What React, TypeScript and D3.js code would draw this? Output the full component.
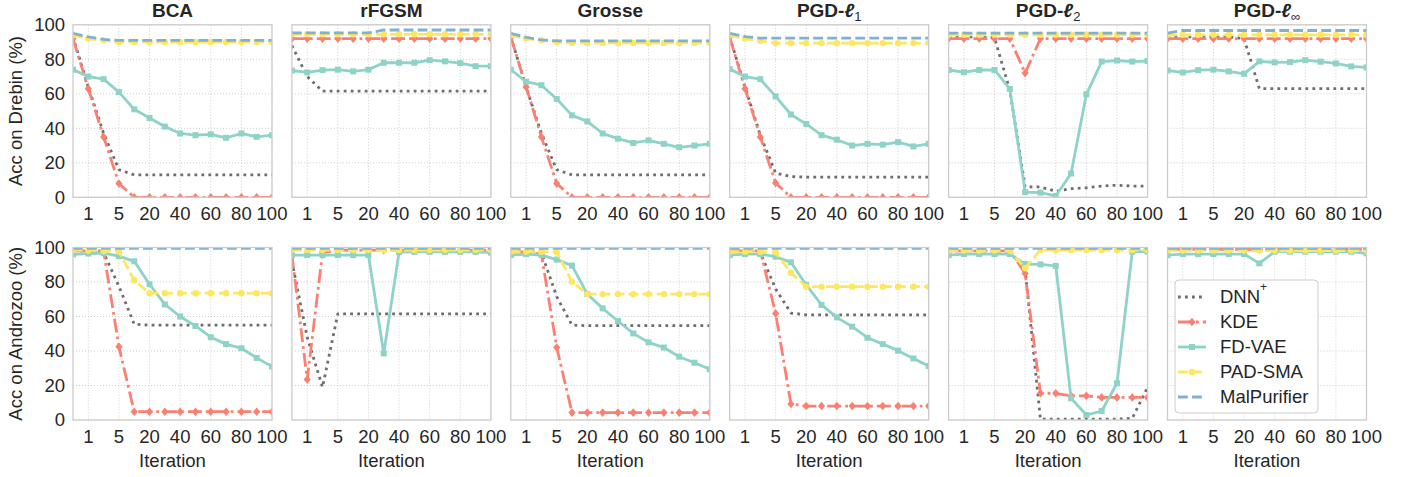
import React from "react";
import * as d3 from "d3";

// x positions are categorical: one slot per evaluated iteration count
const iterations = [0, 1, 2, 5, 10, 20, 30, 40, 50, 60, 70, 80, 90, 100];
const xTickValues = [1, 5, 20, 40, 60, 80, 100];
const yTickValues = [0, 20, 40, 60, 80, 100];

const attacks = ["BCA", "rFGSM", "Grosse", "PGD-ℓ1", "PGD-ℓ2", "PGD-ℓ∞"];
const datasets = ["Drebin", "Androzoo"];
const methods = ["DNN", "KDE", "FD-VAE", "PAD-SMA", "MalPurifier"];

// ---- Drebin (one row per attack, same order as `attacks`)
const dnnDrebin = [
  [93, 64, 37, 16, 13, 13, 13, 13, 13, 13, 13, 13, 13, 13],
  [88, 70, 61.5, 61.5, 61.5, 61.5, 61.5, 61.5, 61.5, 61.5, 61.5, 61.5, 61.5, 61.5],
  [93, 64, 37, 16, 13, 13, 13, 13, 13, 13, 13, 13, 13, 13],
  [93, 64, 36, 14, 12, 11.7, 11.7, 11.7, 11.7, 11.7, 11.7, 11.7, 11.7, 11.7],
  [93, 93, 93, 92.5, 62, 6, 6, 3.5, 5, 5.5, 6.5, 7, 6.5, 6.5],
  [93, 93, 93, 93, 93, 92, 63, 63, 63, 63, 63, 63, 63, 63],
];
const kdeDrebin = [
  [92, 63, 35, 8, 0, 0, 0, 0, 0, 0, 0, 0, 0, 0],
  [92, 92, 92, 92, 92, 92, 92, 92, 92, 92, 92, 92, 92, 92],
  [93, 64, 35, 8, 0, 0, 0, 0, 0, 0, 0, 0, 0, 0],
  [93, 63, 35, 8.3, 0, 0, 0, 0, 0, 0, 0, 0, 0, 0],
  [92, 92, 92, 92, 92, 72, 92, 92, 92, 92, 92, 92, 92, 92],
  [92, 92, 92, 92, 92, 92, 92, 92, 92, 92, 92, 92, 92, 92],
];
const fdvaeDrebin = [
  [74, 70, 68.5, 61, 51, 46, 41, 37, 36, 36.5, 34.5, 37, 35, 36],
  [73.5, 72.4, 73.7, 74, 73, 74, 78, 78, 78, 79.5, 78.8, 77.8, 76, 76],
  [74, 67, 65, 57, 47.5, 44, 37, 34, 31.5, 33, 31, 29, 30, 31],
  [74.3, 70, 68.5, 58.5, 48, 42.5, 36, 33.4, 30, 31, 30.5, 32, 29.5, 31],
  [73.8, 72.5, 73.8, 73.8, 62.8, 3, 2.7, 0.8, 13.8, 59.7, 78.7, 79.3, 78.7, 79],
  [73.5, 72.4, 73.7, 74, 73, 71.6, 78.8, 78.2, 78.4, 79.5, 78.6, 77.6, 75.9, 75.3],
];
const padDrebin = [
  [94, 92, 91, 90, 90, 90, 90, 90, 90, 90, 90, 90, 90, 90],
  [94.5, 94.5, 94.5, 94.5, 94.5, 94.5, 94.5, 94.5, 94.5, 94.5, 94.5, 94.5, 94.5, 94.5],
  [94, 92, 91, 90, 89.5, 89.5, 89.5, 89.5, 89.5, 89.5, 89.5, 89.5, 89.5, 89.5],
  [94, 92, 90.7, 89.4, 89.4, 89.4, 89.4, 89.4, 89.4, 89.4, 89.4, 89.4, 89.4, 89.4],
  [94.2, 94.2, 94.2, 94.2, 94.2, 94.2, 94.2, 94.2, 94.2, 94.2, 94.2, 94.2, 94.2, 94.2],
  [94.2, 94.2, 94.2, 94.2, 94.2, 94.2, 94.2, 94.2, 94.2, 94.2, 94.2, 94.2, 94.2, 94.2],
];
const malDrebin = [
  [95, 93, 91.5, 91, 91, 91, 91, 91, 91, 91, 91, 91, 91, 91],
  [95.3, 95.3, 95.3, 95.3, 95.3, 95.3, 97, 97, 97, 97, 97, 97, 97, 97],
  [95, 92.7, 91.3, 90.7, 90.7, 90.7, 90.7, 90.7, 90.7, 90.7, 90.7, 90.7, 90.7, 90.7],
  [95, 93.2, 92.3, 92.3, 92.3, 92.3, 92.3, 92.3, 92.3, 92.3, 92.3, 92.3, 92.3, 92.3],
  [95.2, 95.2, 95.2, 95.2, 95.2, 95.2, 95.2, 95.2, 95.2, 95.2, 95.2, 95.2, 95.2, 95.2],
  [95.2, 96.7, 96.7, 96.7, 96.7, 96.7, 96.7, 96.7, 96.7, 96.7, 96.7, 96.7, 96.7, 96.7],
];

// ---- Androzoo
const dnnAndro = [
  [98, 98, 97, 77.5, 55.5, 55, 55, 55, 55, 55, 55, 55, 55, 55],
  [92, 48, 19, 61.5, 61.5, 61.5, 61.5, 61.5, 61.5, 61.5, 61.5, 61.5, 61.5, 61.5],
  [98, 98, 97, 71.5, 55, 54.7, 54.7, 54.7, 54.7, 54.7, 54.7, 54.7, 54.7, 54.7],
  [98, 98, 97, 76, 62, 61, 61, 61, 61, 61, 61, 61, 61, 61],
  [98, 98, 98, 98, 98, 87, 0.5, 0.5, 0.5, 0.5, 0.5, 0.5, 1, 19],
  [99, 99, 99, 99, 99, 99, 99, 99, 99, 99, 99, 99, 99, 99],
];
const kdeAndro = [
  [98, 98, 98, 42.5, 4.8, 4.8, 4.8, 4.8, 4.8, 4.8, 4.8, 4.8, 4.8, 4.8],
  [96, 23.5, 97, 98.5, 98.5, 98.5, 98.5, 98.5, 98.5, 98.5, 98.5, 98.5, 98.5, 98.5],
  [97.5, 97.5, 96, 42, 4.3, 4.3, 4.3, 4.3, 4.3, 4.3, 4.3, 4.3, 4.3, 4.3],
  [98, 98, 98, 61.8, 9.3, 8.1, 8.1, 8.1, 8.1, 8.1, 8.1, 8.1, 8.1, 8.1],
  [98, 98, 98, 98, 98, 85, 15.5, 15.5, 14, 14, 13.1, 13.1, 13.1, 13.1],
  [99, 99, 99, 99, 99, 99, 99, 99, 99, 99, 99, 99, 99, 99],
];
const fdvaeAndro = [
  [96, 96.5, 96.7, 95, 92, 78.7, 67, 60, 54.5, 48, 44, 41.6, 36, 31],
  [95.6, 95.6, 95.6, 95.6, 95.6, 95.6, 38.6, 97.3, 97.5, 97.5, 97.5, 97.5, 97.5, 97],
  [95.6, 96.2, 95.6, 93, 89.5, 73, 64.7, 57.4, 50.2, 45, 42, 36.7, 33.2, 29.4],
  [95.6, 96.2, 96.2, 94.7, 91.4, 78.3, 66.7, 59.5, 54.1, 47.7, 44, 40.2, 35.7, 31.3],
  [95.6, 96.2, 96.2, 96.2, 96.2, 90.4, 90.2, 89.3, 12.6, 2.9, 5.2, 21.3, 97.6, 97.6],
  [95.6, 96.2, 96.2, 96.2, 96.2, 96.2, 90.8, 97.6, 97.6, 97.6, 97.6, 97.6, 97.6, 96.6],
];
const padAndro = [
  [98.6, 98.3, 98, 97.7, 81, 73.5, 73.5, 73.5, 73.5, 73.5, 73.5, 73.5, 73.5, 73.5],
  [98.5, 98.5, 98.5, 98.5, 98.5, 98.5, 98.5, 98.5, 98.5, 98.5, 98.5, 98.5, 98.5, 98.5],
  [97.6, 97.6, 97.6, 97.2, 80.2, 73, 73, 73, 73, 73, 73, 73, 73, 73],
  [97.6, 97.6, 97.6, 97.2, 85.4, 77.3, 77.3, 77.3, 77.3, 77.3, 77.3, 77.3, 77.3, 77.3],
  [98.2, 98.2, 98.2, 98.2, 98.2, 88, 98.5, 98.5, 98.5, 98.5, 98.5, 98.5, 98.5, 98.5],
  [98.2, 98.2, 98.2, 98.2, 98.2, 98.2, 98.2, 98.2, 98.2, 98.2, 98.2, 98.2, 98.2, 98.2],
];
const malAndro = [
  [99.5, 99.5, 99.5, 99.5, 99.5, 99.5, 99.5, 99.5, 99.5, 99.5, 99.5, 99.5, 99.5, 99.5],
  [99.5, 99.5, 99.5, 99.5, 99.5, 99.5, 99.5, 99.5, 99.5, 99.5, 99.5, 99.5, 99.5, 99.5],
  [99.5, 99.5, 99.5, 99.5, 99.5, 99.5, 99.5, 99.5, 99.5, 99.5, 99.5, 99.5, 99.5, 99.5],
  [99.5, 99.5, 99.5, 99.5, 99.5, 99.5, 99.5, 99.5, 99.5, 99.5, 99.5, 99.5, 99.5, 99.5],
  [99.5, 99.5, 99.5, 99.5, 99.5, 99.5, 99.5, 99.5, 99.5, 99.5, 99.5, 99.5, 99.5, 99.5],
  [99.5, 99.5, 99.5, 99.5, 99.5, 99.5, 99.5, 99.5, 99.5, 99.5, 99.5, 99.5, 99.5, 99.5],
];

const rows = [
  [dnnDrebin, kdeDrebin, fdvaeDrebin, padDrebin, malDrebin],
  [dnnAndro, kdeAndro, fdvaeAndro, padAndro, malAndro],
];

// styling per method (same order as `methods`)
const styles = [
  { color: "#6e6e6e", dash: "2.8,4.2", marker: null },
  { color: "#fb8072", dash: "14,4,2.8,4", marker: "diamond" },
  { color: "#8dd3c7", dash: null, marker: "square" },
  { color: "#fde75e", dash: "9.8,4.2", marker: "circle" },
  { color: "#80b1d3", dash: "9.8,4.2", marker: null },
];

const W = 1408;
const H = 477;
const panelW = 199;
const panelH = 172.5;
const colLeft = (i) => 73 + i * 218.9;
const rowTop = [24.8, 247.5];
const FONT = "'Liberation Sans', Arial, Helvetica, sans-serif";
const TEXT = "#262626";
const LW = 2.8;

const x = d3.scalePoint().domain(iterations).range([0, panelW]).padding(0);
const y = d3.scaleLinear().domain([0, 100]).range([panelH, 0]);
const line = d3
  .line()
  .x((d, i) => x(iterations[i]))
  .y((d) => y(d));

const Marker = ({ kind, cx, cy, color }) => {
  if (kind === "square")
    return <rect x={cx - 3} y={cy - 3} width={6} height={6} fill={color} />;
  if (kind === "circle") return <circle cx={cx} cy={cy} r={3.2} fill={color} />;
  if (kind === "diamond")
    return (
      <path
        d={`M${cx},${cy - 4.3}L${cx + 3.6},${cy}L${cx},${cy + 4.3}L${cx - 3.6},${cy}Z`}
        fill={color}
      />
    );
  return null;
};

const Title = ({ label }) => {
  if (label.startsWith("PGD-ℓ")) {
    return (
      <>
        PGD-
        <tspan fontStyle="italic">ℓ</tspan>
        <tspan fontWeight="normal" fontSize={13} dy={4}>
          {label.slice(5)}
        </tspan>
      </>
    );
  }
  return <>{label}</>;
};

const Panel = ({ r, c }) => {
  const left = colLeft(c);
  const top = rowTop[r];
  const clipId = `clip-${r}-${c}`;
  const series = rows[r];
  return (
    <g transform={`translate(${left},${top})`}>
      <defs>
        <clipPath id={clipId}>
          <rect x={0} y={0} width={panelW} height={panelH} />
        </clipPath>
      </defs>
      <rect x={0} y={0} width={panelW} height={panelH} fill="#fff" />
      {xTickValues.map((t) => (
        <line
          key={"gx" + t}
          x1={x(t)}
          x2={x(t)}
          y1={0}
          y2={panelH}
          stroke="#c8c8c8"
          strokeWidth={0.9}
          strokeDasharray="1,2"
        />
      ))}
      {yTickValues.map((t) => (
        <line
          key={"gy" + t}
          x1={0}
          x2={panelW}
          y1={y(t)}
          y2={y(t)}
          stroke="#c8c8c8"
          strokeWidth={0.9}
          strokeDasharray="1,2"
        />
      ))}
      <g clipPath={`url(#${clipId})`}>
        {series.map((arr, m) => {
          const vals = arr[c];
          const st = styles[m];
          return (
            <g key={m}>
              <path
                d={line(vals)}
                fill="none"
                stroke={st.color}
                strokeWidth={LW}
                strokeDasharray={st.dash || undefined}
                strokeLinejoin="round"
              />
              {st.marker &&
                vals.map((v, i) => (
                  <Marker key={i} kind={st.marker} cx={x(iterations[i])} cy={y(v)} color={st.color} />
                ))}
            </g>
          );
        })}
      </g>
      <rect x={0} y={0} width={panelW} height={panelH} fill="none" stroke="#cccccc" strokeWidth={1.3} />
      {xTickValues.map((t) => (
        <text
          key={"tx" + t}
          x={x(t)}
          y={panelH + 16.5}
          dy="0.35em"
          textAnchor="middle"
          fontSize={18.5}
          fill={TEXT}
        >
          {t}
        </text>
      ))}
      {c === 0 &&
        yTickValues.map((t) => (
          <text key={"ty" + t} x={-8} y={y(t)} dy="0.35em" textAnchor="end" fontSize={18.5} fill={TEXT}>
            {t}
          </text>
        ))}
      {r === 0 && (
        <text x={panelW / 2} y={-14.8} dy="0.35em" textAnchor="middle" fontSize={19} fontWeight="bold" fill={TEXT}>
          <Title label={attacks[c]} />
        </text>
      )}
      {r === 1 && (
        <text x={panelW / 2} y={213.5} dy="0.35em" textAnchor="middle" fontSize={18.5} fill={TEXT}>
          Iteration
        </text>
      )}
    </g>
  );
};

const Legend = () => {
  const lx = 1175;
  const ly = 280;
  return (
    <g>
      <rect x={lx} y={ly} width={143} height={133} rx={4} fill="#fff" fillOpacity={0.85} stroke="#cccccc" strokeWidth={1} />
      {methods.map((name, k) => {
        const st = styles[k];
        const cy = ly + 17 + k * 25;
        return (
          <g key={name}>
            <line
              x1={lx + 3}
              x2={lx + 31}
              y1={cy}
              y2={cy}
              stroke={st.color}
              strokeWidth={LW}
              strokeDasharray={st.dash || undefined}
            />
            {st.marker && <Marker kind={st.marker} cx={lx + 17} cy={cy} color={st.color} />}
            <text x={lx + 45} y={cy} dy="0.35em" fontSize={18.5} fill={TEXT}>
              {name}
              {k === 0 && (
                <tspan fontSize={12} dy={-12}>
                  +
                </tspan>
              )}
            </text>
          </g>
        );
      })}
    </g>
  );
};

export default function App() {
  return (
    <svg
      width={W}
      height={H}
      viewBox={`0 0 ${W} ${H}`}
      style={{ position: "absolute", left: 0, top: 0, background: "#fff" }}
      fontFamily={FONT}
    >
      <rect width={W} height={H} fill="#fff" />
      {datasets.map((ds, r) => (
        <text
          key={ds}
          transform={`translate(16,${rowTop[r] + panelH / 2}) rotate(-90)`}
          dy="0.35em"
          textAnchor="middle"
          fontSize={18.5}
          fill={TEXT}
        >
          {`Acc on ${ds} (%)`}
        </text>
      ))}
      {[0, 1].map((r) => attacks.map((a, c) => <Panel key={`${r}-${c}`} r={r} c={c} />))}
      <Legend />
    </svg>
  );
}
